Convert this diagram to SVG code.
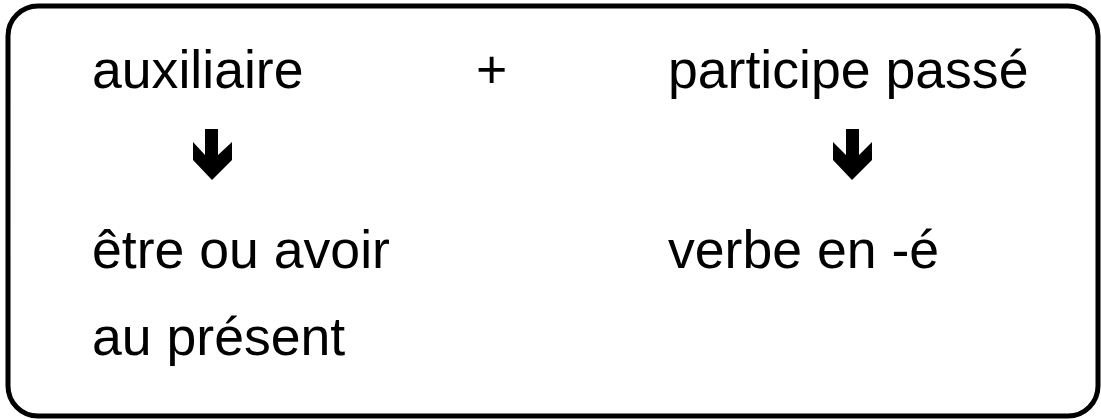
<svg xmlns="http://www.w3.org/2000/svg" width="1101" height="419" viewBox="0 0 1101 419">
<style>
text{font-family:"Liberation Sans",Arial,sans-serif;font-size:53.6px;fill:#000}
.arrow{fill:#000}
</style>
<rect x="0" y="0" width="1101" height="419" fill="#fff"/>
<g id="frame"><rect x="8" y="6" width="1090" height="410" rx="30" ry="30" fill="none" stroke="#000" stroke-width="5"/></g>
<g id="auxiliaire"><text x="92" y="88">auxiliaire</text></g>
<g id="plus"><text x="476" y="88">+</text></g>
<g id="participe"><text x="668" y="88">participe passé</text></g>
<g id="etre"><text x="92" y="268">être ou avoir</text><text x="92" y="355">au présent</text></g>
<g id="verbe"><text x="668" y="268">verbe en -é</text></g>
<g id="connectors">
<polygon class="arrow" points="205,129 218,129 218,155 232,142 232,160 212,180 193,160 193,142 205,155"/>
<polygon class="arrow" points="846,129 859,129 859,155 872,142 872,160 852,180 833,160 833,142 846,155"/>
</g>
</svg>
